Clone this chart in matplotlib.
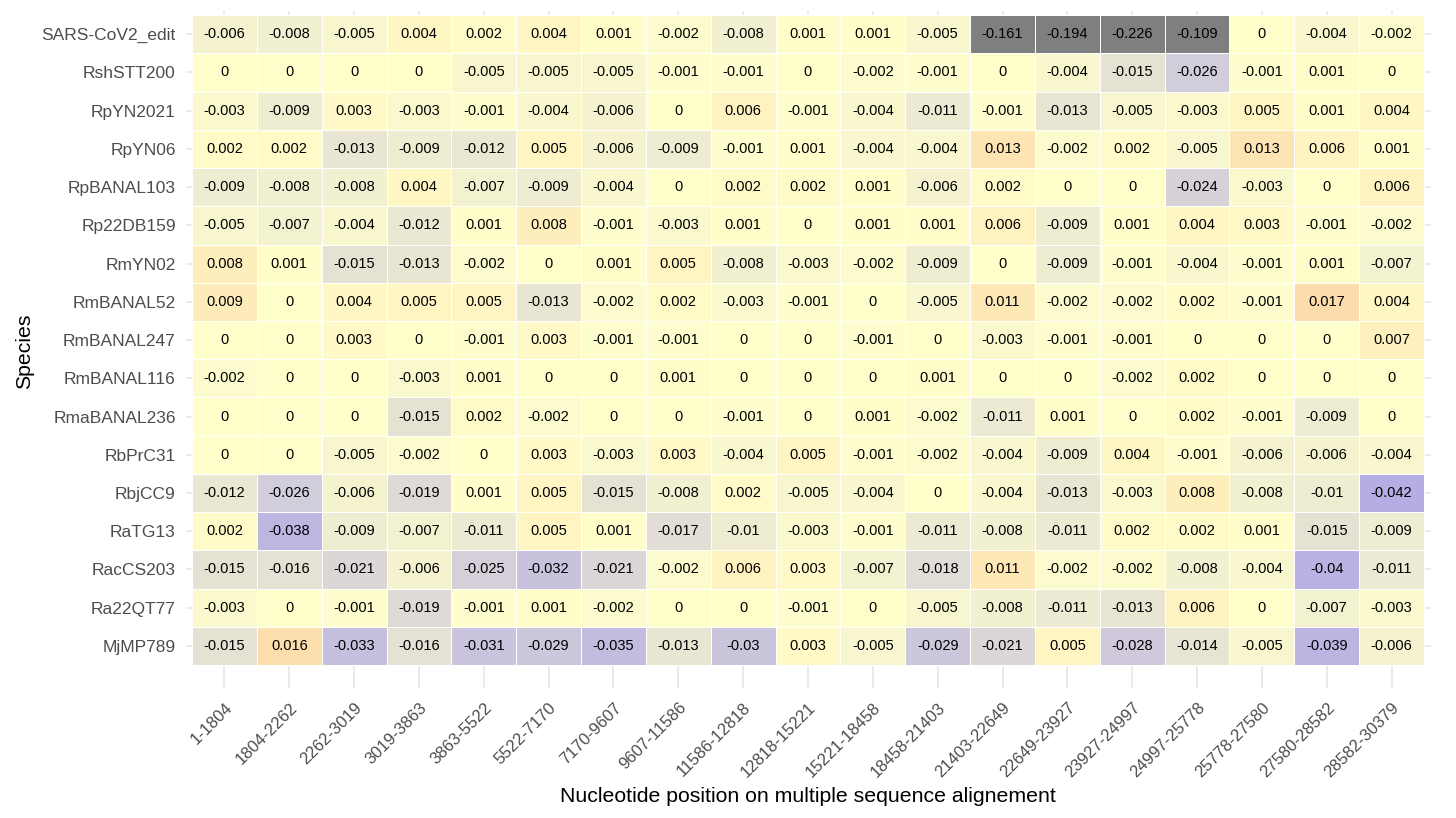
import numpy as np
import matplotlib
matplotlib.use("Agg")
import matplotlib.pyplot as plt
from matplotlib.colors import LinearSegmentedColormap, Normalize

plt.rcParams['font.family'] = ['Liberation Sans', 'DejaVu Sans']

# x categories: windows on the alignment
positions = ["1-1804", "1804-2262", "2262-3019", "3019-3863", "3863-5522",
             "5522-7170", "7170-9607", "9607-11586", "11586-12818", "12818-15221",
             "15221-18458", "18458-21403", "21403-22649", "22649-23927",
             "23927-24997", "24997-25778", "25778-27580", "27580-28582", "28582-30379"]

# y categories, top to bottom
species = ["SARS-CoV2_edit", "RshSTT200", "RpYN2021", "RpYN06", "RpBANAL103",
           "Rp22DB159", "RmYN02", "RmBANAL52", "RmBANAL247", "RmBANAL116",
           "RmaBANAL236", "RbPrC31", "RbjCC9", "RaTG13", "RacCS203", "Ra22QT77",
           "MjMP789"]

sars_cov2_edit = [-0.006, -0.008, -0.005, 0.004, 0.002, 0.004, 0.001, -0.002, -0.008, 0.001, 0.001, -0.005, -0.161, -0.194, -0.226, -0.109, 0, -0.004, -0.002]
rshstt200 = [0, 0, 0, 0, -0.005, -0.005, -0.005, -0.001, -0.001, 0, -0.002, -0.001, 0, -0.004, -0.015, -0.026, -0.001, 0.001, 0]
rpyn2021 = [-0.003, -0.009, 0.003, -0.003, -0.001, -0.004, -0.006, 0, 0.006, -0.001, -0.004, -0.011, -0.001, -0.013, -0.005, -0.003, 0.005, 0.001, 0.004]
rpyn06 = [0.002, 0.002, -0.013, -0.009, -0.012, 0.005, -0.006, -0.009, -0.001, 0.001, -0.004, -0.004, 0.013, -0.002, 0.002, -0.005, 0.013, 0.006, 0.001]
rpbanal103 = [-0.009, -0.008, -0.008, 0.004, -0.007, -0.009, -0.004, 0, 0.002, 0.002, 0.001, -0.006, 0.002, 0, 0, -0.024, -0.003, 0, 0.006]
rp22db159 = [-0.005, -0.007, -0.004, -0.012, 0.001, 0.008, -0.001, -0.003, 0.001, 0, 0.001, 0.001, 0.006, -0.009, 0.001, 0.004, 0.003, -0.001, -0.002]
rmyn02 = [0.008, 0.001, -0.015, -0.013, -0.002, 0, 0.001, 0.005, -0.008, -0.003, -0.002, -0.009, 0, -0.009, -0.001, -0.004, -0.001, 0.001, -0.007]
rmbanal52 = [0.009, 0, 0.004, 0.005, 0.005, -0.013, -0.002, 0.002, -0.003, -0.001, 0, -0.005, 0.011, -0.002, -0.002, 0.002, -0.001, 0.017, 0.004]
rmbanal247 = [0, 0, 0.003, 0, -0.001, 0.003, -0.001, -0.001, 0, 0, -0.001, 0, -0.003, -0.001, -0.001, 0, 0, 0, 0.007]
rmbanal116 = [-0.002, 0, 0, -0.003, 0.001, 0, 0, 0.001, 0, 0, 0, 0.001, 0, 0, -0.002, 0.002, 0, 0, 0]
rmabanal236 = [0, 0, 0, -0.015, 0.002, -0.002, 0, 0, -0.001, 0, 0.001, -0.002, -0.011, 0.001, 0, 0.002, -0.001, -0.009, 0]
rbprc31 = [0, 0, -0.005, -0.002, 0, 0.003, -0.003, 0.003, -0.004, 0.005, -0.001, -0.002, -0.004, -0.009, 0.004, -0.001, -0.006, -0.006, -0.004]
rbjcc9 = [-0.012, -0.026, -0.006, -0.019, 0.001, 0.005, -0.015, -0.008, 0.002, -0.005, -0.004, 0, -0.004, -0.013, -0.003, 0.008, -0.008, -0.01, -0.042]
ratg13 = [0.002, -0.038, -0.009, -0.007, -0.011, 0.005, 0.001, -0.017, -0.01, -0.003, -0.001, -0.011, -0.008, -0.011, 0.002, 0.002, 0.001, -0.015, -0.009]
raccs203 = [-0.015, -0.016, -0.021, -0.006, -0.025, -0.032, -0.021, -0.002, 0.006, 0.003, -0.007, -0.018, 0.011, -0.002, -0.002, -0.008, -0.004, -0.04, -0.011]
ra22qt77 = [-0.003, 0, -0.001, -0.019, -0.001, 0.001, -0.002, 0, 0, -0.001, 0, -0.005, -0.008, -0.011, -0.013, 0.006, 0, -0.007, -0.003]
mjmp789 = [-0.015, 0.016, -0.033, -0.016, -0.031, -0.029, -0.035, -0.013, -0.03, 0.003, -0.005, -0.029, -0.021, 0.005, -0.028, -0.014, -0.005, -0.039, -0.006]

values = np.array([sars_cov2_edit, rshstt200, rpyn2021, rpyn06, rpbanal103,
                   rp22db159, rmyn02, rmbanal52, rmbanal247, rmbanal116,
                   rmabanal236, rbprc31, rbjcc9, ratg13, raccs203, ra22qt77,
                   mjmp789])

# purple -> pale yellow -> orange, values below the limit go grey
cmap = LinearSegmentedColormap.from_list("div", ["#a99fe7", "#ffffcc", "#f6986b"])
cmap.set_under("#7f7f7f")
norm = Normalize(vmin=-0.05, vmax=0.05)

W, H = 1456, 818
fig = plt.figure(figsize=(W / 100, H / 100), dpi=100)
# panel in pixel coords
left, right, top, bottom = 185.5, 1430.5, 11.3, 688
ax = fig.add_axes([left / W, 1 - bottom / H, (right - left) / W, (bottom - top) / H])

nrow, ncol = values.shape
ax.set_xlim(-0.6, ncol - 1 + 0.6)
ax.set_ylim(nrow - 1 + 1.1, -0.6)

# light grid behind the tiles
for i in range(ncol):
    ax.axvline(i, color="#e6e6e6", lw=1.1, zorder=0)
for j in range(nrow):
    ax.axhline(j, color="#e6e6e6", lw=1.1, zorder=0)

xe = np.arange(ncol + 1) - 0.5
ye = np.arange(nrow + 1) - 0.5
ax.pcolormesh(xe, ye, values, cmap=cmap, norm=norm, edgecolors="white",
              linewidth=0.6, zorder=1)

for j in range(nrow):
    for i in range(ncol):
        v = values[j, i]
        txt = "0" if v == 0 else f"{v:g}"
        ax.text(i, j, txt, ha="center", va="center", fontsize=10.5,
                color="black", zorder=2)

for s in ax.spines.values():
    s.set_visible(False)
ax.set_xticks(range(ncol))
ax.set_yticks(range(nrow))
ax.set_xticklabels(positions, rotation=45, ha="right", va="top",
                   rotation_mode="anchor", fontsize=12, color="#4d4d4d")
ax.set_yticklabels(species, fontsize=12.5, color="#4d4d4d")
ax.tick_params(axis="x", length=0, pad=8.5)
ax.tick_params(axis="y", length=0, pad=7)

fig.text(808 / W, 1 - 797 / H, "Nucleotide position on multiple sequence alignement",
         ha="center", va="center", fontsize=15.3)
fig.text(25 / W, 1 - 351 / H, "Species", ha="center", va="center",
         rotation=90, fontsize=15.3)

fig.savefig("out.png", dpi=100)
